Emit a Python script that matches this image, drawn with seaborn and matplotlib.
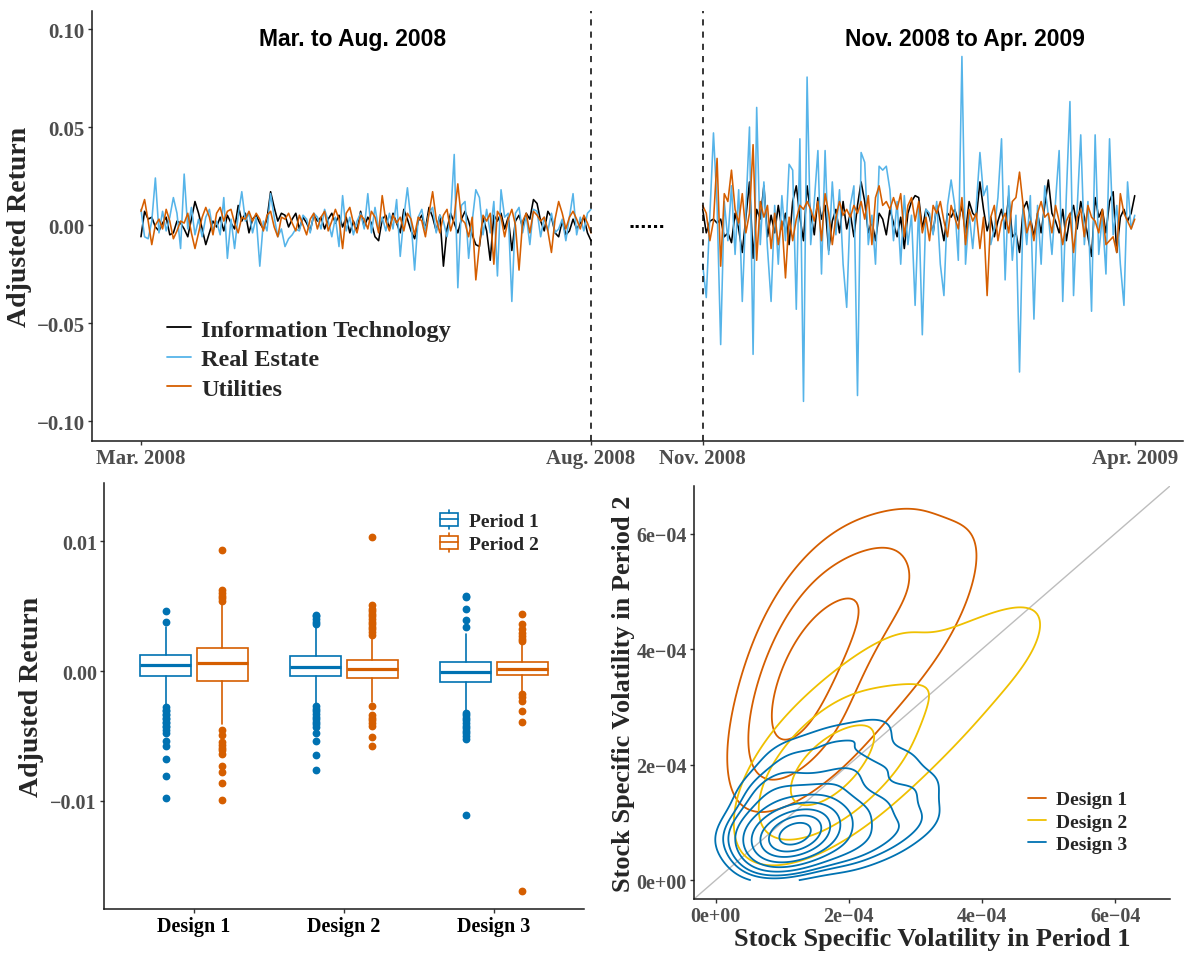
import numpy as np
import pandas as pd
import matplotlib
matplotlib.use("Agg")
import matplotlib.pyplot as plt
from matplotlib.lines import Line2D
from matplotlib.patches import Patch, Rectangle
from matplotlib.legend_handler import HandlerBase
import seaborn as sns

# ---------------------------------------------------------------- data
sectors = ["Information Technology", "Real Estate", "Utilities"]
sector_colors = ["#000000", "#56B4E9", "#D55E00"]

# daily adjusted returns, Mar.-Aug. 2008
it_p1 = [-0.006, 0.007, 0.003, 0.004, -0.001, -0.003, 0.001, 0.004, -0.005, -0.004,
         0.002, 0.001, -0.002, -0.006, 0.003, 0.012, 0.006, -0.002, -0.010, -0.004,
         0.002, -0.001, 0.004, -0.003, 0.005, 0.001, -0.002, 0.010, 0.002, 0.006,
         -0.004, 0.003, 0.005, 0.001, -0.002, 0.003, 0.017, 0.009, 0.002, 0.006,
         0.005, -0.001, 0.003, 0.006, -0.002, 0.004, 0.001, -0.003, 0.005, 0.002,
         0.004, -0.002, 0.003, 0.006, 0.001, 0.005, -0.001, 0.004, -0.004, 0.002,
         -0.003, 0.007, -0.001, 0.004, 0.001, -0.006, -0.008, 0.003, 0.005, -0.002,
         0.006, 0.001, -0.004, 0.008, 0.003, -0.003, -0.007, 0.002, 0.005, -0.002,
         0.009, 0.004, -0.003, 0.005, -0.021, -0.002, 0.006, 0.001, -0.004, 0.003,
         0.007, 0.002, -0.005, -0.010, -0.011, 0.004, -0.003, -0.018, 0.005, 0.002,
         0.006, -0.002, 0.004, -0.013, 0.002, 0.005, -0.001, 0.006, 0.003, 0.013,
         0.011, 0.002, -0.003, 0.007, 0.004, -0.004, -0.006, 0.002, -0.005, -0.003,
         0.003, -0.002, 0.001, 0.004, -0.004, -0.008]
re_p1 = [0.008, -0.006, -0.007, 0.002, 0.024, -0.004, 0.007, -0.003, 0.004, 0.014,
         0.006, -0.012, 0.026, -0.002, 0.009, -0.005, 0.003, -0.006, 0.004, 0.008,
         -0.003, 0.002, -0.005, 0.014, -0.017, 0.003, -0.012, 0.005, 0.017, 0.002,
         0.006, -0.004, 0.004, -0.021, 0.002, -0.003, 0.016, 0.004, -0.006, -0.002,
         -0.011, -0.007, -0.005, -0.002, -0.003, 0.005, 0.003, -0.004, 0.006, 0.004,
         -0.002, 0.008, 0.002, -0.006, 0.004, -0.011, 0.015, -0.003, 0.004, -0.005,
         0.002, 0.006, -0.002, 0.016, -0.004, 0.009, -0.002, 0.004, -0.003, 0.006,
         -0.002, 0.013, -0.016, 0.004, 0.019, 0.002, -0.023, 0.004, 0.008, -0.003,
         0.006, 0.009, -0.004, 0.005, 0.002, -0.006, 0.004, 0.036, -0.032, 0.010,
         0.012, -0.017, 0.002, 0.018, 0.014, -0.005, 0.008, -0.004, 0.012, -0.026,
         0.018, 0.004, 0.006, -0.039, 0.006, 0.009, -0.004, 0.005, -0.010, 0.008,
         0.007, -0.006, 0.004, -0.003, 0.006, -0.004, -0.002, 0.003, -0.008, 0.004,
         0.016, -0.005, 0.004, -0.003, 0.006, 0.008]
ut_p1 = [0.007, 0.013, 0.002, -0.010, 0.000, 0.003, -0.002, 0.008, 0.002, -0.007,
         -0.003, 0.002, 0.001, 0.006, -0.004, -0.012, -0.004, 0.004, 0.009, 0.004,
         -0.005, 0.006, 0.009, 0.002, 0.007, 0.008, 0.001, -0.004, 0.004, 0.003,
         0.007, 0.002, 0.006, 0.003, -0.003, 0.005, 0.007, -0.001, -0.006, 0.004,
         0.003, 0.006, 0.001, -0.003, 0.005, 0.000, -0.005, 0.003, 0.006, -0.002,
         0.004, 0.007, -0.003, 0.002, 0.008, 0.003, -0.012, 0.006, 0.009, 0.001,
         -0.004, 0.005, 0.003, -0.002, 0.007, 0.004, -0.004, 0.015, 0.002, -0.003,
         0.005, 0.001, 0.004, -0.003, 0.006, 0.003, -0.005, 0.004, 0.002, -0.006,
         0.006, 0.017, 0.003, -0.004, 0.005, 0.008, -0.003, 0.004, 0.021, 0.003,
         0.001, -0.006, 0.004, -0.028, -0.010, 0.005, 0.002, 0.006, -0.020, 0.007,
         0.004, -0.006, 0.003, 0.008, 0.000, -0.023, 0.002, 0.006, -0.004, 0.007,
         0.005, 0.002, 0.004, -0.003, -0.014, 0.003, 0.012, 0.006, -0.002, 0.004,
         0.007, 0.003, -0.002, 0.005, 0.001, -0.004]

# daily adjusted returns, Nov. 2008-Apr. 2009
it_p2 = [0.008, -0.004, 0.002, 0.003, 0.001, 0.003, -0.006, -0.004, -0.009, 0.006,
         -0.002, -0.014, 0.004, 0.022, -0.017, 0.008, 0.003, 0.020, -0.006, 0.005,
         -0.004, 0.010, -0.002, 0.006, -0.010, 0.012, 0.020, 0.004, -0.008, 0.020,
         0.006, -0.005, 0.014, 0.003, 0.010, -0.013, 0.002, 0.008, -0.004, 0.012,
         -0.002, 0.006, -0.006, 0.010, 0.022, 0.012, -0.004, 0.002, -0.008, 0.006,
         0.003, -0.005, 0.008, 0.001, -0.006, 0.004, -0.012, 0.006, 0.012, 0.015,
         0.014, -0.002, 0.008, 0.004, -0.004, 0.010, 0.002, -0.008, 0.006, 0.004,
         0.008, 0.002, 0.010, -0.004, 0.012, 0.006, 0.004, 0.022, 0.008, -0.003,
         0.004, -0.006, 0.002, 0.008, -0.002, 0.015, -0.006, -0.004, -0.014, 0.008,
         0.012, 0.004, -0.006, 0.006, -0.004, 0.010, 0.023, 0.006, 0.002, -0.004,
         0.008, -0.008, 0.004, 0.010, -0.002, 0.012, 0.004, -0.006, -0.016, 0.014,
         0.004, 0.008, -0.004, 0.012, 0.017, -0.014, 0.004, 0.008, 0.002, 0.006,
         0.015]
re_p2 = [-0.020, -0.037, 0.005, 0.047, 0.010, -0.061, 0.012, -0.008, 0.020, -0.015,
         0.018, -0.039, 0.008, 0.050, -0.066, 0.060, -0.010, 0.022, -0.012, -0.039,
         0.010, -0.020, 0.015, -0.008, 0.031, 0.028, -0.043, 0.044, -0.090, 0.0755,
         -0.010, 0.012, 0.038, -0.025, 0.038, -0.015, 0.022, -0.005, 0.018, -0.020,
         -0.042, 0.010, 0.020, -0.087, 0.037, 0.032, -0.010, 0.005, -0.020, 0.030,
         0.028, 0.030, 0.018, -0.008, 0.012, -0.020, 0.015, -0.010, 0.005, -0.041,
         0.010, -0.056, 0.008, 0.006, -0.005, 0.012, -0.020, -0.036, 0.010, 0.023,
         0.010, -0.018, 0.086, -0.020, 0.006, -0.012, 0.010, 0.037, 0.015, 0.020,
         -0.010, -0.002, 0.014, 0.044, -0.028, 0.020, -0.018, 0.005, -0.075, 0.010,
         -0.010, 0.015, -0.048, 0.010, -0.020, 0.020, 0.005, -0.015, 0.012, 0.038,
         -0.039, 0.015, 0.063, -0.036, 0.008, 0.046, -0.010, 0.012, -0.044, 0.046,
         -0.015, 0.005, -0.025, 0.044, -0.005, 0.010, -0.020, -0.041, 0.022, -0.002,
         0.005]
ut_p2 = [0.010, 0.006, -0.008, 0.002, 0.034, -0.021, 0.016, 0.012, 0.028, 0.008,
         0.001, 0.016, -0.004, 0.006, 0.041, -0.018, 0.012, 0.004, 0.010, -0.012,
         0.006, -0.010, 0.002, -0.027, 0.004, -0.008, 0.003, 0.010, 0.008, 0.012,
         0.008, 0.002, 0.012, -0.008, 0.016, 0.006, -0.010, 0.004, 0.012, 0.005,
         0.008, 0.004, 0.010, 0.006, 0.012, 0.003, 0.015, -0.010, 0.014, 0.020,
         0.010, 0.012, 0.008, 0.014, 0.008, 0.016, -0.006, 0.010, 0.014, 0.002,
         0.012, -0.004, 0.004, -0.008, 0.010, 0.006, 0.012, 0.002, -0.006, 0.010,
         0.004, -0.002, 0.014, -0.010, 0.008, 0.002, 0.006, -0.012, 0.004, -0.036,
         0.004, 0.010, -0.008, 0.002, 0.006, -0.004, 0.012, 0.014, 0.027, 0.010,
         -0.004, 0.002, -0.008, 0.006, 0.012, 0.004, 0.006, -0.004, 0.010, 0.002,
         -0.010, 0.002, 0.006, -0.014, 0.004, 0.008, -0.006, 0.010, 0.004, 0.002,
         -0.004, 0.008, -0.010, -0.008, -0.006, -0.014, 0.016, 0.006, 0.002, -0.002,
         0.003]

period_titles = ["Mar. to Aug. 2008", "Nov. 2008 to Apr. 2009"]
date_labels = ["Mar. 2008", "Aug. 2008", "Nov. 2008", "Apr. 2009"]

# box-plot summaries of adjusted returns by design
designs = ["Design 1", "Design 2", "Design 3"]
periods = ["Period 1", "Period 2"]
period_colors = ["#0072B2", "#D55E00"]
q1_p1 = [-0.00041, -0.00038, -0.00087]
med_p1 = [0.00044, 0.00028, -0.00005]
q3_p1 = [0.00123, 0.00118, 0.00067]
wlo_p1 = [-0.00267, -0.00254, -0.00310]
whi_p1 = [0.00336, 0.00354, 0.00285]
q1_p2 = [-0.00077, -0.00056, -0.00031]
med_p2 = [0.00059, 0.00015, 0.00015]
q3_p2 = [0.00177, 0.00082, 0.00069]
wlo_p2 = [-0.00410, -0.00240, -0.00170]
whi_p2 = [0.00520, 0.00270, 0.00220]
out_p1 = [
    [0.0046, 0.0038, -0.0028, -0.0030, -0.0031, -0.0033, -0.0034, -0.0036, -0.0037,
     -0.0039, -0.0040, -0.0042, -0.0043, -0.0045, -0.0048, -0.0054, -0.0058, -0.0068,
     -0.0081, -0.0098],
    [0.0036, 0.0038, 0.0040, 0.0042, 0.0043, -0.0027, -0.0029, -0.0031, -0.0033,
     -0.0035, -0.0037, -0.0039, -0.0041, -0.0043, -0.0048, -0.0054, -0.0065, -0.0076],
    [0.0034, 0.0039, 0.0048, 0.0057, 0.0058, -0.0032, -0.0034, -0.0036, -0.0038,
     -0.0040, -0.0042, -0.0044, -0.0046, -0.0048, -0.0050, -0.0052, -0.0111],
]
out_p2 = [
    [0.0054, 0.0056, 0.0058, 0.0060, 0.0062, 0.0093, -0.0045, -0.0049, -0.0055,
     -0.0057, -0.0059, -0.0061, -0.0064, -0.0073, -0.0078, -0.0086, -0.0099],
    [0.0028, 0.0030, 0.0032, 0.0034, 0.0036, 0.0038, 0.0040, 0.0042, 0.0044, 0.0046,
     0.0048, 0.0051, 0.0103, -0.0027, -0.0034, -0.0036, -0.0038, -0.0040, -0.0042,
     -0.0051, -0.0058],
    [0.0023, 0.0025, 0.0027, 0.0029, 0.0032, 0.0036, 0.0044, -0.0018, -0.0020,
     -0.0023, -0.0031, -0.0039, -0.0169],
]

# stock specific volatility (x 1e-4), period 1 vs period 2
design_colors = ["#D55E00", "#EFC000", "#0072B2"]
d1_vol1 = [1.05, 1.15, 1.25, 1.40, 1.55, 1.70, 1.20, 1.35, 1.50, 1.65, 1.30, 1.10,
           1.85, 2.00,
           0.85, 0.80, 1.00, 1.25, 1.65, 2.15, 2.50, 2.70, 2.50, 2.30, 1.90, 1.50,
           1.05, 2.05, 2.40,
           0.90, 0.85, 0.95, 1.05, 1.35, 1.75, 2.20, 2.90, 3.50, 3.65, 3.45, 3.10,
           2.75, 2.30, 1.70, 1.00, 3.30, 3.45, 3.20]
d1_vol2 = [2.50, 2.90, 3.30, 3.70, 4.10, 4.40, 2.60, 3.00, 3.40, 3.80, 3.90, 3.30,
           4.50, 4.20,
           2.30, 3.00, 3.90, 4.60, 4.90, 5.20, 5.50, 5.50, 4.70, 3.70, 2.80, 2.20,
           2.10, 4.40, 5.10,
           2.10, 2.90, 3.80, 4.60, 5.30, 5.70, 5.95, 6.00, 5.85, 5.40, 4.60, 3.80,
           3.20, 2.50, 2.00, 1.75, 5.00, 5.50, 4.30]
d2_vol1 = [1.55, 1.65, 1.75, 1.45, 1.85, 1.35, 1.95, 1.60, 1.70, 1.40,
           1.10, 1.05, 1.15, 1.70, 2.30, 2.90, 3.10, 2.70, 2.30, 1.70, 1.35, 2.10,
           2.60, 2.00,
           1.15, 1.15, 1.40, 2.00, 2.50, 3.10, 3.80, 4.50, 4.95, 4.70, 4.20, 3.40,
           2.80, 2.20, 1.60, 3.50, 4.40, 4.00]
d2_vol2 = [1.70, 1.90, 2.10, 1.50, 2.30, 1.80, 1.90, 2.20, 1.45, 2.05,
           1.25, 1.85, 2.50, 2.85, 3.05, 3.30, 2.80, 2.30, 1.70, 1.10, 0.95, 2.60,
           2.80, 2.20,
           1.05, 2.15, 3.00, 3.60, 4.20, 4.50, 4.60, 4.55, 4.20, 3.55, 2.90, 2.30,
           1.80, 1.10, 0.80, 3.60, 4.30, 3.90]
d3_vol1 = [1.22, 1.15, 1.28, 1.22, 1.14, 1.30, 1.20, 1.27, 1.10, 1.36, 1.18, 1.25,
           1.32, 1.12,
           0.88, 0.92, 1.20, 1.55, 1.62, 1.40, 1.00, 0.82, 1.45, 1.68,
           0.62, 0.66, 0.88, 1.30, 1.80, 2.10, 2.18, 1.85, 1.45, 0.95, 2.00, 2.40,
           0.45, 0.72, 1.05, 1.70, 2.35, 2.70, 3.05, 3.05, 2.62, 2.10, 0.80, 1.10]
d3_vol2 = [0.83, 0.85, 0.82, 0.76, 0.78, 0.90, 0.92, 0.72, 0.84, 0.82, 0.88, 0.95,
           0.76, 0.72,
           0.68, 1.00, 1.20, 1.08, 0.78, 0.58, 0.60, 0.86, 1.25, 1.02,
           0.70, 1.10, 1.45, 1.65, 1.62, 1.32, 0.88, 0.60, 0.50, 0.50, 1.90, 1.22,
           0.88, 1.62, 2.15, 2.40, 2.55, 2.00, 1.60, 1.05, 0.70, 0.50, 0.50, 0.45]
kde_bw = [1.3, 1.2, 1.05]
kde_levels = [[0.19, 0.5, 0.8],
              [0.23, 0.55, 0.85],
              [0.05, 0.13, 0.22, 0.32, 0.43, 0.54, 0.66, 0.78, 0.91]]

# ---------------------------------------------------------------- style
sns.set_theme(style="ticks")
plt.rcParams.update({
    "font.family": ["Liberation Serif", "DejaVu Serif"],
    "font.weight": "bold",
    "axes.labelweight": "bold",
    "axes.linewidth": 1.1,
    "axes.edgecolor": "#1a1a1a",
    "xtick.color": "#333333",
    "ytick.color": "#333333",
    "xtick.labelcolor": "#4d4d4d",
    "ytick.labelcolor": "#4d4d4d",
    "xtick.major.size": 3.2,
    "ytick.major.size": 3.2,
    "xtick.major.width": 1.0,
    "ytick.major.width": 1.0,
})

W, H = 1188, 954
fig = plt.figure(figsize=(W / 100, H / 100), dpi=100)


def frame(left, top, right, bottom):
    return fig.add_axes([left / W, 1 - bottom / H, (right - left) / W, (bottom - top) / H])


def minus(s):
    return s.replace("-", "\u2212")


# ---------------------------------------------------------------- returns
ax = frame(92, 12, 1183, 442)
gap_start = len(it_p1) - 1
p2_start = gap_start + 31
t1 = np.arange(len(it_p1))
t2 = p2_start + np.arange(len(it_p2))
series = {sectors[0]: (it_p1, it_p2), sectors[1]: (re_p1, re_p2), sectors[2]: (ut_p1, ut_p2)}
rows = []
for name, (a, b) in series.items():
    rows.append(pd.DataFrame({"t": t1, "ret": a, "sector": name, "period": 1}))
    rows.append(pd.DataFrame({"t": t2, "ret": b, "sector": name, "period": 2}))
ts = pd.concat(rows, ignore_index=True)

sns.lineplot(data=ts, x="t", y="ret", hue="sector", units="period", estimator=None,
             hue_order=sectors, palette=sector_colors, linewidth=1.15, legend=False, ax=ax)

for xv in (gap_start, p2_start):
    ax.axvline(xv, color="black", lw=1.1, ls=(0, (4, 4)))

ax.set_xlim(-13.6, 289.4)
ax.set_ylim(-0.1102, 0.1092)
ax.set_xticks([0, gap_start, p2_start, t2[-1]])
ax.set_xticklabels(date_labels)
yt = [-0.10, -0.05, 0.0, 0.05, 0.10]
ax.set_yticks(yt)
ax.set_yticklabels([minus(f"{v:.2f}") for v in yt])
ax.tick_params(labelsize=15, pad=2)
ax.set_xlabel("")
ax.set_ylabel("Adjusted Return", fontsize=20)
ax.yaxis.set_label_coords(-0.055, 0.5)
sns.despine(ax=ax)

ax.text(0.2392, 0.935, period_titles[0], transform=ax.transAxes, ha="center", va="center",
        fontfamily="Liberation Sans", fontweight="bold", fontsize=16.5, color="black")
ax.text(0.8002, 0.935, period_titles[1], transform=ax.transAxes, ha="center", va="center",
        fontfamily="Liberation Sans", fontweight="bold", fontsize=16.5, color="black")
ax.text((gap_start + p2_start) / 2, -0.0008, "......", ha="center", va="baseline",
        fontfamily="Liberation Sans", fontweight="bold", fontsize=15.5, color="black")

handles = [Line2D([], [], color=c, lw=1.3) for c in sector_colors]
ax.legend(handles, sectors, loc="center left", bbox_to_anchor=(0.0687, 0.19),
          frameon=False, fontsize=17.5, handlelength=0.98, handletextpad=0.42,
          labelspacing=0.3, borderpad=0, borderaxespad=0)

# ---------------------------------------------------------------- box plots
axb = frame(104, 484, 584, 910)
offset = 0.187
box_w = 0.34


def box_stats(q1, med, q3, wlo, whi, out):
    return [dict(q1=q1[i], med=med[i], q3=q3[i], whislo=wlo[i], whishi=whi[i],
                 fliers=np.array(out[i])) for i in range(len(q1))]


groups = [box_stats(q1_p1, med_p1, q3_p1, wlo_p1, whi_p1, out_p1),
          box_stats(q1_p2, med_p2, q3_p2, wlo_p2, whi_p2, out_p2)]
for k, (stats, col) in enumerate(zip(groups, period_colors)):
    pos = np.arange(len(designs)) + (offset if k else -offset)
    axb.bxp(stats, positions=pos, widths=box_w, showcaps=False, patch_artist=True,
            manage_ticks=False,
            boxprops=dict(facecolor="white", edgecolor=col, linewidth=1.2),
            whiskerprops=dict(color=col, linewidth=1.2),
            medianprops=dict(color=col, linewidth=2.3, solid_capstyle="butt"),
            flierprops=dict(marker="o", markerfacecolor=col, markeredgecolor=col,
                            markersize=4.6, linestyle="none"))

axb.set_xlim(-0.6, 2.6)
axb.set_ylim(-0.018308, 0.014462)
axb.set_xticks(range(len(designs)))
axb.set_xticklabels(designs)
ybt = [-0.01, 0.0, 0.01]
axb.set_yticks(ybt)
axb.set_yticklabels([minus(f"{v:.2f}") for v in ybt])
axb.tick_params(labelsize=14.5, pad=2)
axb.tick_params(axis="x", labelcolor="black")
axb.set_ylabel("Adjusted Return", fontsize=20)
axb.yaxis.set_label_coords(-0.125, 0.5)
sns.despine(ax=axb)


class BoxGlyph(HandlerBase):
    def create_artists(self, legend, orig_handle, xdescent, ydescent, width, height,
                       fontsize, trans):
        col = orig_handle.get_edgecolor()
        x0, x1 = -xdescent, -xdescent + width
        yc = -ydescent + height / 2
        hh = height * 0.42
        rect = Rectangle((x0, yc - hh), width, 2 * hh, facecolor="white",
                         edgecolor=col, lw=1.2, transform=trans)
        med = Line2D([x0, x1], [yc, yc], color=col, lw=1.2, transform=trans)
        xc = (x0 + x1) / 2
        top = Line2D([xc, xc], [yc + hh, yc + hh + height * 0.22], color=col, lw=1.2,
                     transform=trans)
        bot = Line2D([xc, xc], [yc - hh, yc - hh - height * 0.22], color=col, lw=1.2,
                     transform=trans)
        return [rect, med, top, bot]


box_handles = [Patch(facecolor="white", edgecolor=c) for c in period_colors]
axb.legend(box_handles, periods, loc="center left", bbox_to_anchor=(0.7, 0.8838),
           frameon=False, fontsize=14, handlelength=0.95, handleheight=0.8,
           handletextpad=0.55, labelspacing=0.25, borderpad=0, borderaxespad=0,
           handler_map={h: BoxGlyph() for h in box_handles})

# ---------------------------------------------------------------- volatility densities
axk = frame(694, 487, 1170, 900)
scale = 1e-4
vols = [(d1_vol1, d1_vol2), (d2_vol1, d2_vol2), (d3_vol1, d3_vol2)]
for (vx, vy), col, lev, bw in zip(vols, design_colors, kde_levels, kde_bw):
    sns.kdeplot(x=np.array(vx) * scale, y=np.array(vy) * scale, levels=lev, color=col,
                linewidths=1.3, bw_adjust=bw, clip=((-1.0, 1.0), (0.0, 1.0)), ax=axk)

axk.axline((0, 0), slope=1, color="#bdbdbd", lw=1.0, zorder=0)
axk.set_xlim(-3.25e-5, 6.825e-4)
axk.set_ylim(-3.25e-5, 6.825e-4)
kt = [0, 2e-4, 4e-4, 6e-4]
klabels = ["0e+00", "2e\u221204", "4e\u221204", "6e\u221204"]
axk.set_xticks(kt)
axk.set_xticklabels(klabels)
axk.set_yticks(kt)
axk.set_yticklabels(klabels)
axk.tick_params(labelsize=14.5, pad=2)
axk.set_xlabel("Stock Specific Volatility in Period 1", fontsize=19)
axk.set_ylabel("Stock Specific Volatility in Period 2", fontsize=19)
axk.xaxis.set_label_coords(0.5, -0.068)
axk.yaxis.set_label_coords(-0.124, 0.5)
sns.despine(ax=axk)

kde_handles = [Line2D([], [], color=c, lw=1.3) for c in design_colors]
axk.legend(kde_handles, designs, loc="center left", bbox_to_anchor=(0.7017, 0.1864),
           frameon=False, fontsize=14, handlelength=0.9, handletextpad=0.55,
           labelspacing=0.25, borderpad=0, borderaxespad=0)

fig.savefig("out.png", dpi=100)
